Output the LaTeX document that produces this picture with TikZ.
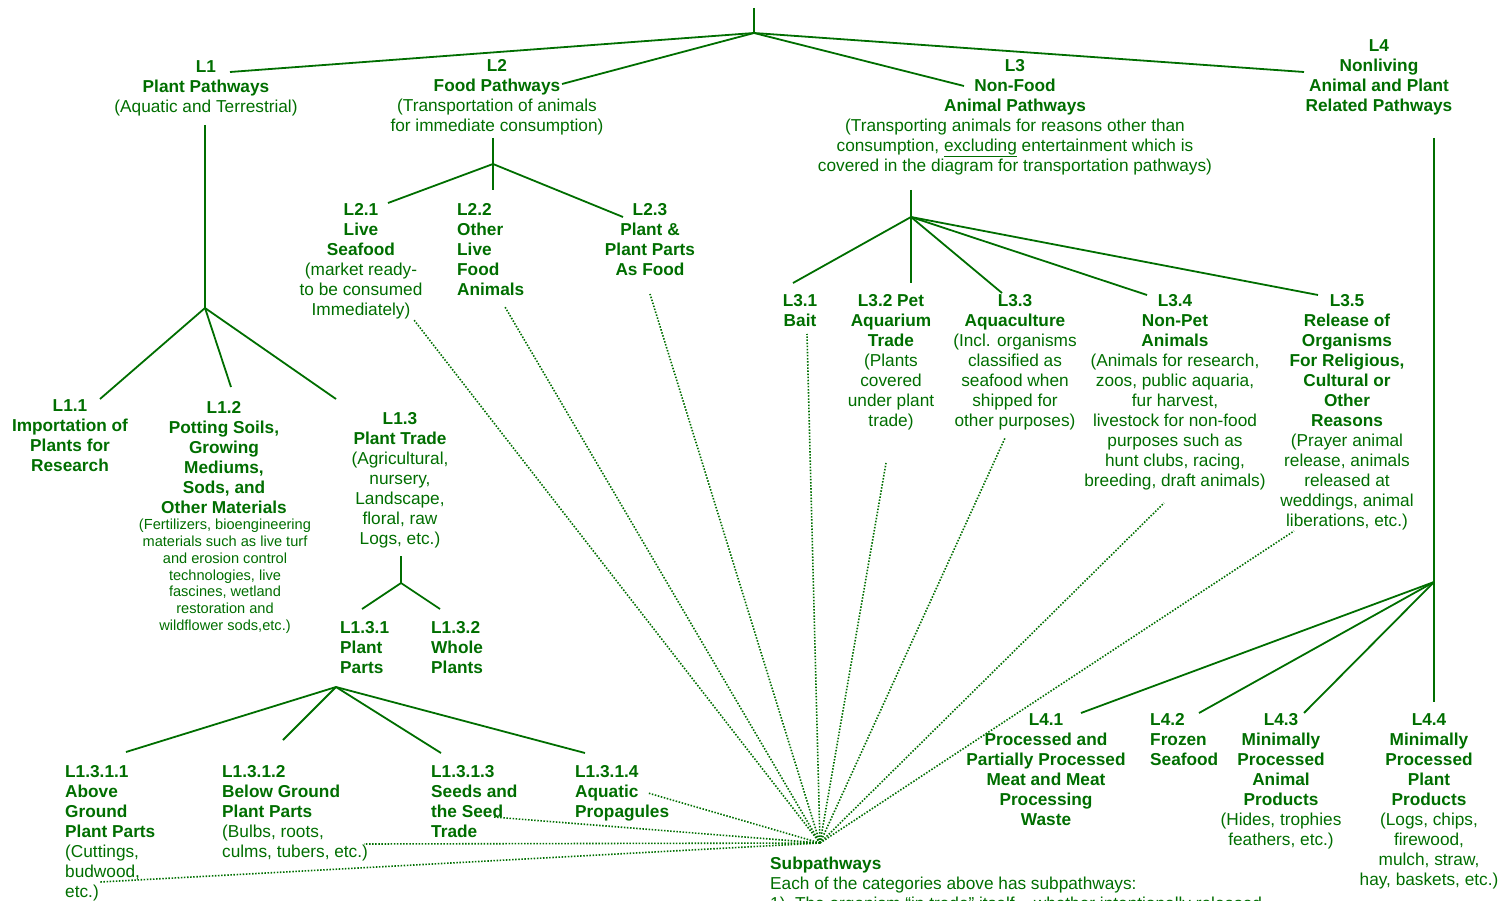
\documentclass[tikz,border=0pt]{standalone}
\usepackage{fontspec}
\setmainfont{Liberation Sans}
\definecolor{treegreen}{RGB}{0,110,0}
\tikzset{
  lbl/.style={text=treegreen, font=\fontsize{17.25}{20}\selectfont, inner sep=0pt, align=center, anchor=north},
  lbll/.style={lbl, align=left, anchor=north west},
  note/.style={lbl, font=\fontsize{14.6}{16.8}\selectfont},
  branch/.style={draw=treegreen, line width=1.8pt},
  sub/.style={draw=treegreen, line width=1.6pt, dash pattern=on 1.5pt off 1.6pt}
}
\begin{document}
\begin{tikzpicture}[x=1pt,y=-1pt]
    \useasboundingbox (0,0) rectangle (1507,901);
    % top level
    \coordinate (top) at (754,8);
    \coordinate (root) at (754,33);
    \node[lbl] (l1) at (206,60) {\textbf{L1}\\\textbf{Plant Pathways}\\(Aquatic and Terrestrial)};
    \node[lbl] (l2) at (497,59) {\textbf{L2}\\\textbf{Food Pathways}\\(Transportation of animals\\for immediate consumption)};
    \node[lbl] (l3) at (1015,59) {\textbf{L3}\\\textbf{Non-Food}\\\textbf{Animal Pathways}\\(Transporting animals for reasons other than\\consumption, \underline{excluding} entertainment which is\\covered in the diagram for transportation pathways)};
    \node[lbl] (l4) at (1379,39) {\textbf{L4}\\\textbf{Nonliving}\\\textbf{Animal and Plant}\\\textbf{Related Pathways}};
    \coordinate (e1) at (230,72);
    \coordinate (e2) at (562,84);
    \coordinate (e3) at (964,86);
    \coordinate (e4) at (1304,72);
    % L1 plant pathways
    \coordinate (l1top) at (205,125);
    \coordinate (l1fork) at (205,308);
    \coordinate (e11) at (100,399);
    \coordinate (e12) at (231,387);
    \coordinate (e13) at (336,399);
    \node[lbl] (l11) at (70,399) {\textbf{L1.1}\\\textbf{Importation of}\\\textbf{Plants for}\\\textbf{Research}};
    \node[lbl] (l12) at (224,401) {\textbf{L1.2}\\\textbf{Potting Soils,}\\\textbf{Growing}\\\textbf{Mediums,}\\\textbf{Sods, and}\\\textbf{Other Materials}};
    \node[note] (l12note) at (225,519) {(Fertilizers, bioengineering\\materials such as live turf\\and erosion control\\technologies, live\\fascines, wetland\\restoration and\\wildflower sods,etc.)};
    \node[lbl] (l13) at (400,412) {\textbf{L1.3}\\\textbf{Plant Trade}\\(Agricultural,\\nursery,\\Landscape,\\floral, raw\\Logs, etc.)};
    \coordinate (l13top) at (401,556);
    \coordinate (l13fork) at (401,583);
    \coordinate (e131) at (362,609);
    \coordinate (e132) at (440,609);
    \node[lbll] (l131) at (340,621) {\textbf{L1.3.1}\\\textbf{Plant}\\\textbf{Parts}};
    \node[lbll] (l132) at (431,621) {\textbf{L1.3.2}\\\textbf{Whole}\\\textbf{Plants}};
    \coordinate (l131fork) at (336,687);
    \coordinate (e1311) at (126,752);
    \coordinate (e1312) at (283,740);
    \coordinate (e1313) at (441,753);
    \coordinate (e1314) at (585,753);
    \node[lbll] (l1311) at (65,765) {\textbf{L1.3.1.1}\\\textbf{Above}\\\textbf{Ground}\\\textbf{Plant Parts}\\(Cuttings,\\budwood,\\etc.)};
    \node[lbll] (l1312) at (222,765) {\textbf{L1.3.1.2}\\\textbf{Below Ground}\\\textbf{Plant Parts}\\(Bulbs, roots,\\culms, tubers, etc.)};
    \node[lbll] (l1313) at (431,765) {\textbf{L1.3.1.3}\\\textbf{Seeds and}\\\textbf{the Seed}\\\textbf{Trade}};
    \node[lbll] (l1314) at (575,765) {\textbf{L1.3.1.4}\\\textbf{Aquatic}\\\textbf{Propagules}};
    % L2 food pathways
    \coordinate (l2top) at (493,138);
    \coordinate (l2fork) at (493,164);
    \coordinate (e22) at (493,190);
    \coordinate (e21) at (388,203);
    \coordinate (e23) at (623,217);
    \node[lbl] (l21) at (361,203) {\textbf{L2.1}\\\textbf{Live}\\\textbf{Seafood}\\(market ready-\\to be consumed\\Immediately)};
    \node[lbll] (l22) at (457,203) {\textbf{L2.2}\\\textbf{Other}\\\textbf{Live}\\\textbf{Food}\\\textbf{Animals}};
    \node[lbl] (l23) at (650,203) {\textbf{L2.3}\\\textbf{Plant \&}\\\textbf{Plant Parts}\\\textbf{As Food}};
    % L3 non-food animal pathways
    \coordinate (l3top) at (911,190);
    \coordinate (l3fork) at (911,217);
    \coordinate (e31) at (793,283);
    \coordinate (e32) at (911,283);
    \coordinate (e33) at (1002,293);
    \coordinate (e34) at (1147,295);
    \coordinate (e35) at (1318,295);
    \node[lbl] (l31) at (800,294) {\textbf{L3.1}\\\textbf{Bait}};
    \node[lbl] (l32) at (891,294) {\textbf{L3.2 Pet}\\\textbf{Aquarium}\\\textbf{Trade}\\(Plants\\covered\\under plant\\trade)};
    \node[lbl] (l33) at (1015,294) {\textbf{L3.3}\\\textbf{Aquaculture}\\(Incl. organisms\\classified as\\seafood when\\shipped for\\other purposes)};
    \node[lbl] (l34) at (1175,294) {\textbf{L3.4}\\\textbf{Non-Pet}\\\textbf{Animals}\\(Animals for research,\\zoos, public aquaria,\\fur harvest,\\livestock for non-food\\purposes such as\\hunt clubs, racing,\\breeding, draft animals)};
    \node[lbl] (l35) at (1347,294) {\textbf{L3.5}\\\textbf{Release of}\\\textbf{Organisms}\\\textbf{For Religious,}\\\textbf{Cultural or}\\\textbf{Other}\\\textbf{Reasons}\\(Prayer animal\\release, animals\\released at\\weddings, animal\\liberations, etc.)};
    % L4 nonliving
    \coordinate (l4top) at (1434,138);
    \coordinate (l4fork) at (1434,582);
    \coordinate (e44) at (1434,702);
    \coordinate (e41) at (1081,713);
    \coordinate (e42) at (1199,713);
    \coordinate (e43) at (1304,713);
    \node[lbl] (l41) at (1046,713) {\textbf{L4.1}\\\textbf{Processed and}\\\textbf{Partially Processed}\\\textbf{Meat and Meat}\\\textbf{Processing}\\\textbf{Waste}};
    \node[lbll] (l42) at (1150,713) {\textbf{L4.2}\\\textbf{Frozen}\\\textbf{Seafood}};
    \node[lbl] (l43) at (1281,713) {\textbf{L4.3}\\\textbf{Minimally}\\\textbf{Processed}\\\textbf{Animal}\\\textbf{Products}\\(Hides, trophies\\feathers, etc.)};
    \node[lbl] (l44) at (1429,713) {\textbf{L4.4}\\\textbf{Minimally}\\\textbf{Processed}\\\textbf{Plant}\\\textbf{Products}\\(Logs, chips,\\firewood,\\mulch, straw,\\hay, baskets, etc.)};
    % subpathways
    \coordinate (hub) at (820,843);
    \node[lbll] (subp) at (770,857) {\textbf{Subpathways}\\Each of the categories above has subpathways:\\1)\ \ The organism “in trade” itself – whether intentionally released};
    \coordinate (d21) at (414,320);
    \coordinate (d22) at (505,307);
    \coordinate (d23) at (650,294);
    \coordinate (d31) at (807,334);
    \coordinate (d32) at (886,463);
    \coordinate (d33) at (1005,438);
    \coordinate (d34) at (1164,503);
    \coordinate (d35) at (1294,531);
    \coordinate (d1314) at (648,793);
    \coordinate (d1313) at (493,817);
    \coordinate (d1312) at (364,844);
    \coordinate (d1311) at (100,882);
    \path[branch]
      (top) edge (root)
      (root) edge (e1) edge (e2) edge (e3) edge (e4)
      (l1top) edge (l1fork)
      (l1fork) edge (e11) edge (e12) edge (e13)
      (l13top) edge (l13fork)
      (l13fork) edge (e131) edge (e132)
      (l131fork) edge (e1311) edge (e1312) edge (e1313) edge (e1314)
      (l2top) edge (e22)
      (l2fork) edge (e21) edge (e23)
      (l3top) edge (e32)
      (l3fork) edge (e31) edge (e33) edge (e34) edge (e35)
      (l4top) edge (e44)
      (l4fork) edge (e41) edge (e42) edge (e43);
    \path[sub]
      (hub) edge (d21) edge (d22) edge (d23)
            edge (d31) edge (d32) edge (d33) edge (d34) edge (d35)
            edge (d1314) edge (d1313) edge (d1312) edge (d1311);
\end{tikzpicture}
\end{document}
